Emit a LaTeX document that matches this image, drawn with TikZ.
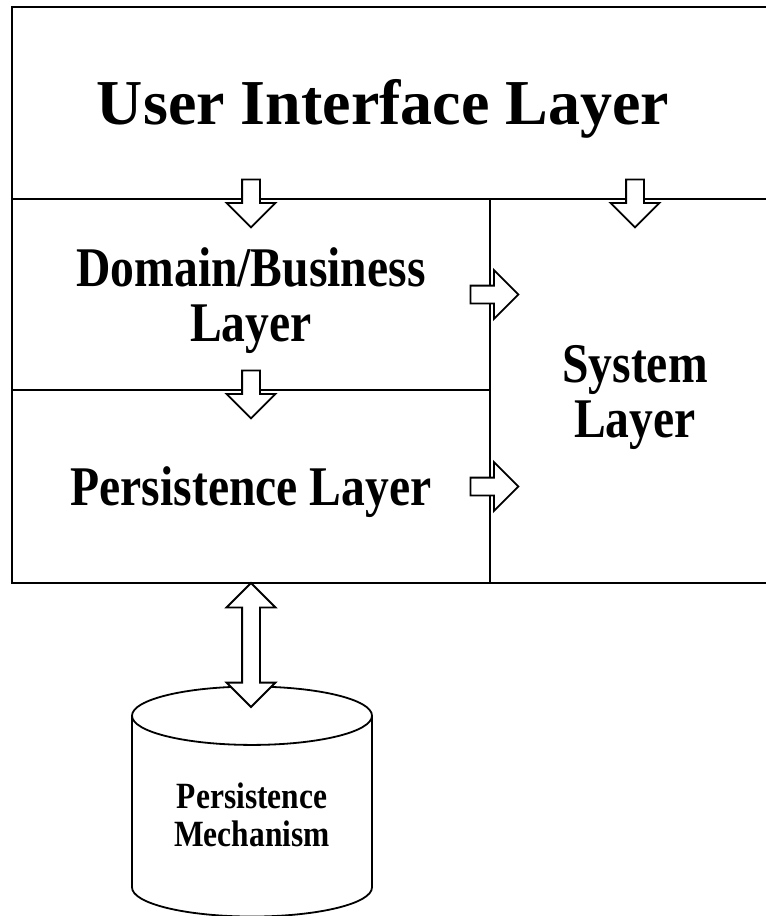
\documentclass[tikz,border=0pt]{standalone}
\usepackage{fontspec}
\usetikzlibrary{shapes,arrows,positioning,calc}
\newfontfamily\layerfont{Liberation Serif}[FakeStretch=0.85]
\newfontfamily\titlefont{Liberation Serif}

\begin{document}
\begin{tikzpicture}[x=1pt, y=-1pt]
  \tikzstyle{layer}=[rectangle, draw, line width=2pt, outer sep=0pt, anchor=north west, align=center, text height=51pt, font=\layerfont\bfseries\fontsize{56}{55}\selectfont]
  \tikzstyle{twoline}=[layer, text height=106pt]
  \tikzstyle{toplayer}=[layer, text height=56pt, font=\titlefont\bfseries\fontsize{64}{64}\selectfont]
  \tikzstyle{flow}=[single arrow, draw, fill=white, line width=1.8pt, inner xsep=0pt, inner ysep=8pt, single arrow head extend=15.5pt, minimum height=48pt]
  \tikzstyle{link}=[double arrow, draw, fill=white, line width=1.8pt, inner xsep=0pt, inner ysep=8pt, double arrow head extend=15.5pt, minimum height=124pt]
  \tikzstyle{store}=[cylinder, shape border rotate=90, draw, line width=1.8pt, aspect=0.36, minimum width=240pt, minimum height=230pt, align=center, text depth=10pt, font=\layerfont\bfseries\fontsize{37}{38}\selectfont]

  \useasboundingbox (0,0) rectangle (766,916);
  \clip (0,0) rectangle (766,916);

  % the four layers
  \node[toplayer, minimum width=768pt, minimum height=192pt] (ui) at (12,7) {User Interface Layer\hspace*{26pt}};
  \node[twoline, minimum width=478pt, minimum height=191pt] (dom) at (ui.south west) {Domain/Business\\Layer};
  \node[layer, minimum width=478pt, minimum height=193pt] (pers) at (dom.south west) {Persistence Layer};
  \node[twoline, minimum width=290pt, minimum height=384pt] (sys) at (dom.north east) {System\\Layer};
  \draw[line width=2.6pt] (ui.north west) rectangle (sys.south east);

  % data store
  \node[store] (db) at (252,820) {Persistence\\Mechanism};

  % dependencies
  \node[flow, rotate=-90] (uidom) at (dom.north) {};
  \node[flow, rotate=-90] (uisys) at (sys.north) {};
  \node[flow, rotate=-90] (dompers) at (pers.north) {};
  \node[flow] (domsys) at (dom.east) {};
  \node[flow] (perssys) at (pers.east) {};
  \node[link, rotate=90] (persdb) at ($(pers.south)+(0,62)$) {};
\end{tikzpicture}
\end{document}
